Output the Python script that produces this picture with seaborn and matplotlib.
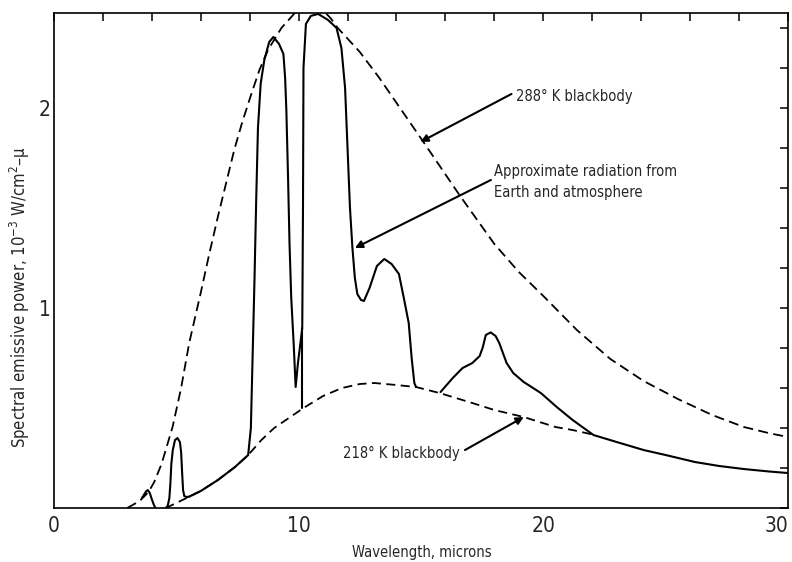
import matplotlib
matplotlib.use("Agg")
import matplotlib.pyplot as plt
import numpy as np
import pandas as pd
import seaborn as sns
from matplotlib.ticker import MultipleLocator

# 288 K blackbody (upper dashed curve)
bb288_wl = [3.0, 3.5, 3.87, 4.1, 4.4, 4.85, 5.2, 5.53, 6.0, 6.35, 6.7, 7.05,
            7.37, 7.7, 8.07, 8.4, 8.75, 9.3, 9.85, 10.4, 10.9, 11.3, 11.6,
            12.5, 13.3, 14.2, 15.1, 16.6, 18.0, 19.0, 20.0, 21.37, 22.74,
            24.1, 25.5, 26.9, 28.2, 29.2, 30.0]
bb288_pow = [0.0, 0.035, 0.08, 0.13, 0.22, 0.405, 0.6, 0.825, 1.075, 1.27,
             1.455, 1.63, 1.79, 1.93, 2.07, 2.19, 2.29, 2.4, 2.475, 2.51, 2.5,
             2.45, 2.4, 2.28, 2.15, 1.99, 1.83, 1.56, 1.32, 1.18, 1.06, 0.89,
             0.745, 0.635, 0.545, 0.465, 0.405, 0.375, 0.355]

# 218 K blackbody (lower dashed curve)
bb218_wl = [4.57, 5.0, 5.5, 6.0, 6.7, 7.4, 7.94, 8.48, 9.0, 9.6, 10.2, 11.0,
            11.77, 12.5, 13.1, 14.0, 14.8, 15.76, 17.1, 18.0, 19.2, 20.5,
            21.2, 22.1]
bb218_pow = [0.0, 0.025, 0.055, 0.085, 0.14, 0.205, 0.265, 0.34, 0.4, 0.45,
             0.5, 0.56, 0.6, 0.62, 0.625, 0.615, 0.605, 0.575, 0.525, 0.49,
             0.455, 0.405, 0.39, 0.365]

# Approximate radiation from Earth and atmosphere (solid), in pieces
earth_a_wl = [3.6, 3.7, 3.78, 3.84, 3.92, 4.0, 4.08, 4.15]
earth_a_pow = [0.05, 0.07, 0.085, 0.09, 0.075, 0.045, 0.018, 0.0]

earth_b_wl = [4.57, 4.65, 4.72, 4.76, 4.8, 4.86, 4.95, 5.05, 5.15, 5.2, 5.24,
              5.28, 5.33, 5.42, 5.53]
earth_b_pow = [0.0, 0.01, 0.05, 0.12, 0.22, 0.29, 0.34, 0.35, 0.33, 0.28,
               0.18, 0.09, 0.06, 0.055, 0.057]

earth_c_wl = [5.53, 6.0, 6.7, 7.4, 7.94, 8.05, 8.13, 8.2, 8.27, 8.34, 8.45,
              8.6, 8.8, 8.97, 9.2, 9.38, 9.45, 9.5, 9.57, 9.63, 9.7, 9.8,
              9.88, 9.97, 10.05, 10.15, 10.18, 10.2, 10.3, 10.5, 10.8, 11.2,
              11.55, 11.75, 11.9, 12.0, 12.1, 12.2, 12.3, 12.4, 12.55, 12.67,
              12.9, 13.2, 13.5, 13.8, 14.1, 14.3, 14.5, 14.62, 14.73, 14.8]
earth_c_pow = [0.057, 0.085, 0.14, 0.205, 0.265, 0.4, 0.8, 1.15, 1.55, 1.9,
               2.12, 2.24, 2.33, 2.355, 2.32, 2.27, 2.15, 1.99, 1.65, 1.32,
               1.05, 0.82, 0.605, 0.72, 0.8, 0.9, 1.5, 2.2, 2.42, 2.46, 2.47,
               2.44, 2.4, 2.3, 2.1, 1.8, 1.5, 1.3, 1.15, 1.07, 1.04, 1.035,
               1.1, 1.21, 1.245, 1.22, 1.17, 1.05, 0.925, 0.75, 0.625, 0.605]

earth_d_wl = [10.15, 10.15]
earth_d_pow = [0.5, 0.9]

earth_e_wl = [15.8, 16.3, 16.7, 17.1, 17.4, 17.53, 17.65, 17.85, 18.05, 18.2,
              18.5, 18.77, 19.2, 19.9, 20.55, 21.2, 22.05, 23.0, 24.1, 25.0,
              26.2, 27.2, 28.2, 29.2, 30.0]
earth_e_pow = [0.58, 0.65, 0.7, 0.725, 0.76, 0.805, 0.865, 0.878, 0.86,
               0.825, 0.725, 0.675, 0.63, 0.575, 0.505, 0.44, 0.365, 0.33,
               0.29, 0.265, 0.23, 0.21, 0.195, 0.183, 0.175]

x_major = [0, 10, 20, 30]
y_major = [1, 2]

sns.set_style("white")
plt.rcParams["font.family"] = ["DejaVu Sans"]
plt.rcParams["font.stretch"] = "condensed"

pieces = [(earth_a_wl, earth_a_pow), (earth_b_wl, earth_b_pow),
          (earth_c_wl, earth_c_pow), (earth_d_wl, earth_d_pow),
          (earth_e_wl, earth_e_pow)]
earth_df = pd.concat(
    [pd.DataFrame({"wl": w, "pow": p, "seg": i}) for i, (w, p) in enumerate(pieces)],
    ignore_index=True)

fig = plt.figure(figsize=(7.92, 5.62), dpi=100)
ax = fig.add_axes([0.068, 0.096, 0.927, 0.881])

sns.lineplot(x=bb288_wl, y=bb288_pow, sort=False, color="black", lw=1.3, ax=ax)
ax.lines[-1].set_dashes((5.5, 3))
sns.lineplot(x=bb218_wl, y=bb218_pow, sort=False, color="black", lw=1.3, ax=ax)
ax.lines[-1].set_dashes((5, 3))
sns.lineplot(data=earth_df, x="wl", y="pow", units="seg", estimator=None,
             sort=False, color="black", lw=1.5, ax=ax)

ax.set_xlim(0, 30)
ax.set_ylim(0, 2.475)
ax.set_xticks(x_major)
xlabels = ax.set_xticklabels([str(v) for v in x_major])
xlabels[-1].set_horizontalalignment("right")
ax.xaxis.set_minor_locator(MultipleLocator(2))
ax.set_yticks(y_major)
ax.set_yticklabels([str(v) for v in y_major])
ax.yaxis.set_minor_locator(MultipleLocator(0.2))

ax.tick_params(which="both", direction="in", top=True, right=True,
               length=6, width=1.1, color="black")
ax.tick_params(axis="x", which="major", labelsize=15, pad=6)
ax.tick_params(axis="y", which="major", labelsize=15, pad=2)
for s in ax.spines.values():
    s.set_color("black")
    s.set_linewidth(1.2)

ax.set_xlabel("Wavelength, microns", fontsize=10.5)
ax.set_ylabel("Spectral emissive power, 10$^{-3}$ W/cm$^{2}$\u2013\u03bc", fontsize=12)
ax.xaxis.set_label_coords(0.501, -0.074)
ax.yaxis.set_label_coords(-0.03, 0.426)

arrow = dict(arrowstyle="-|>", color="black", lw=1.5, mutation_scale=11,
             shrinkA=0, shrinkB=0)
ax.annotate("", xy=(14.98, 1.83), xytext=(18.7, 2.07), arrowprops=arrow)
ax.annotate("", xy=(12.3, 1.3), xytext=(17.86, 1.64), arrowprops=arrow)
ax.annotate("", xy=(19.2, 0.455), xytext=(16.8, 0.29), arrowprops=arrow)

ax.text(18.9, 2.055, "288\u00b0 K blackbody", fontsize=10.5, ha="left", va="center")
ax.text(18.0, 1.63, "Approximate radiation from\nEarth and atmosphere",
        fontsize=10.5, ha="left", va="center", linespacing=1.45)
ax.text(11.8, 0.275, "218\u00b0 K blackbody", fontsize=10.5, ha="left", va="center")

fig.savefig("out.png", dpi=100)
